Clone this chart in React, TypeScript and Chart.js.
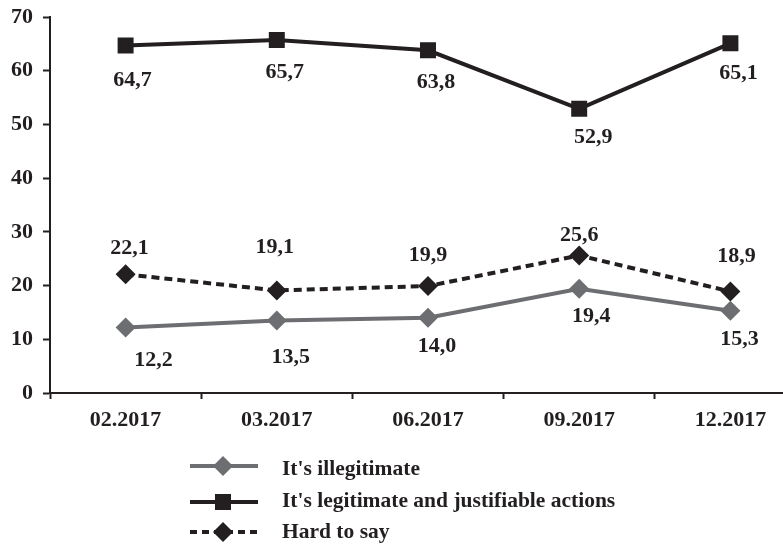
import React, { useEffect, useRef } from "react";
import { Chart, registerables } from "chart.js";

Chart.register(...registerables);

const categories = ["02.2017", "03.2017", "06.2017", "09.2017", "12.2017"];
const illegitimate = [12.2, 13.5, 14.0, 19.4, 15.3];
const legitimate = [64.7, 65.7, 63.8, 52.9, 65.1];
const hardToSay = [22.1, 19.1, 19.9, 25.6, 18.9];
const seriesNames = [
  "It's illegitimate",
  "It's legitimate and justifiable actions",
  "Hard to say",
];

const INK = "#231f20";
const GRAY = "#6d6e71";
const FONT = "'Liberation Serif', 'Times New Roman', serif";
const FS = 22;

// label offsets (dx, dy) relative to each point, per series
const labelOffsets = [
  [[28, 33], [14, 37], [9, 29], [12, 28], [9, 28]],
  [[7, 35], [8, 32], [8, 32], [14, 28], [8, 30]],
  [[4, -26], [-2, -43], [0, -31], [0, -20], [6, -35]],
];

const fmt = (v: number) => v.toFixed(1).replace(".", ",");

const labelsPlugin = {
  id: "valueLabels",
  afterDatasetsDraw(chart: any) {
    const ctx = chart.ctx;
    ctx.save();
    ctx.font = `bold ${FS}px ${FONT}`;
    ctx.fillStyle = INK;
    ctx.textAlign = "center";
    ctx.textBaseline = "middle";
    chart.data.datasets.forEach((ds: any, di: number) => {
      const meta = chart.getDatasetMeta(di);
      meta.data.forEach((pt: any, i: number) => {
        const [dx, dy] = labelOffsets[di][i];
        ctx.fillText(fmt(ds.data[i]), pt.x + dx, pt.y + dy);
      });
    });
    ctx.restore();
  },
};

function drawDiamond(ctx: CanvasRenderingContext2D, x: number, y: number, r: number, fill: string) {
  ctx.beginPath();
  ctx.moveTo(x, y - r);
  ctx.lineTo(x + r, y);
  ctx.lineTo(x, y + r);
  ctx.lineTo(x - r, y);
  ctx.closePath();
  ctx.fillStyle = fill;
  ctx.fill();
}

const legendPlugin = {
  id: "customLegend",
  afterDraw(chart: any) {
    const ctx = chart.ctx;
    const symRows = [466, 502, 532];
    const textRows = [469, 501, 532];
    const x0 = 190;
    const x1 = 258;
    const xc = 223;
    const tx = 282;
    ctx.save();
    ctx.lineWidth = 4;
    ctx.strokeStyle = GRAY;
    ctx.beginPath();
    ctx.moveTo(x0, symRows[0]);
    ctx.lineTo(x1, symRows[0]);
    ctx.stroke();
    drawDiamond(ctx, xc, symRows[0], 10, GRAY);

    ctx.strokeStyle = INK;
    ctx.beginPath();
    ctx.moveTo(x0, symRows[1]);
    ctx.lineTo(x1, symRows[1]);
    ctx.stroke();
    ctx.fillStyle = INK;
    ctx.fillRect(xc - 8, symRows[1] - 8, 16, 16);

    ctx.setLineDash([7, 5]);
    ctx.beginPath();
    ctx.moveTo(x0, symRows[2]);
    ctx.lineTo(x1, symRows[2]);
    ctx.stroke();
    ctx.setLineDash([]);
    drawDiamond(ctx, xc, symRows[2], 10, INK);

    ctx.font = `bold 21.5px ${FONT}`;
    ctx.fillStyle = INK;
    ctx.textAlign = "left";
    ctx.textBaseline = "middle";
    seriesNames.forEach((n, i) => ctx.fillText(n, tx, textRows[i]));
    ctx.restore();
  },
};

export default function App() {
  const ref = useRef<HTMLCanvasElement | null>(null);
  useEffect(() => {
    if (!ref.current) return;
    const chart = new Chart(ref.current, {
      type: "line",
      data: {
        labels: categories,
        datasets: [
          {
            label: seriesNames[0],
            data: illegitimate,
            borderColor: GRAY,
            backgroundColor: GRAY,
            borderWidth: 4,
            pointStyle: "rectRot",
            pointRadius: 10,
            pointBorderWidth: 0,
            pointBackgroundColor: GRAY,
            tension: 0,
          },
          {
            label: seriesNames[1],
            data: legitimate,
            borderColor: INK,
            backgroundColor: INK,
            borderWidth: 4,
            pointStyle: "rect",
            pointRadius: 11.3,
            pointBorderWidth: 0,
            pointBackgroundColor: INK,
            tension: 0,
          },
          {
            label: seriesNames[2],
            data: hardToSay,
            borderColor: INK,
            backgroundColor: INK,
            borderWidth: 4,
            borderDash: [8, 5],
            pointStyle: "rectRot",
            pointRadius: 10,
            pointBorderWidth: 0,
            pointBackgroundColor: INK,
            tension: 0,
          },
        ],
      },
      options: {
        animation: false,
        responsive: false,
        devicePixelRatio: 1,
        layout: { padding: { left: 0, top: 17, right: 34, bottom: 0 } },
        plugins: {
          legend: { display: false },
          tooltip: { enabled: false },
        },
        scales: {
          x: {
            type: "category",
            offset: true,
            grid: {
              offset: true,
              drawOnChartArea: false,
              tickLength: 6,
              tickWidth: 2,
              tickColor: INK,
            },
            border: { color: INK, width: 2 },
            ticks: {
              color: INK,
              font: { family: FONT, size: FS, weight: "bold" },
              padding: 8,
              maxRotation: 0,
            },
            afterFit: (s: any) => {
              s.height = 546 - 393;
              s.paddingLeft = 0;
              s.paddingRight = 0;
            },
          },
          y: {
            min: 0,
            max: 70,
            grid: {
              drawOnChartArea: false,
              tickLength: 7,
              tickWidth: 2,
              tickColor: INK,
            },
            border: { color: INK, width: 2 },
            ticks: {
              stepSize: 10,
              color: INK,
              font: { family: FONT, size: FS, weight: "bold" },
              padding: 10,
            },
            afterFit: (s: any) => {
              s.width = 50;
              s.paddingTop = 0;
              s.paddingBottom = 0;
            },
          },
        },
      },
      plugins: [labelsPlugin, legendPlugin],
    });
    return () => chart.destroy();
  }, []);
  return (
    <div
      style={{
        position: "absolute",
        left: 0,
        top: 0,
        width: 783,
        height: 546,
        overflow: "hidden",
        background: "#fff",
      }}
    >
      <canvas ref={ref} width={840} height={546} style={{ display: "block" }} />
    </div>
  );
}
